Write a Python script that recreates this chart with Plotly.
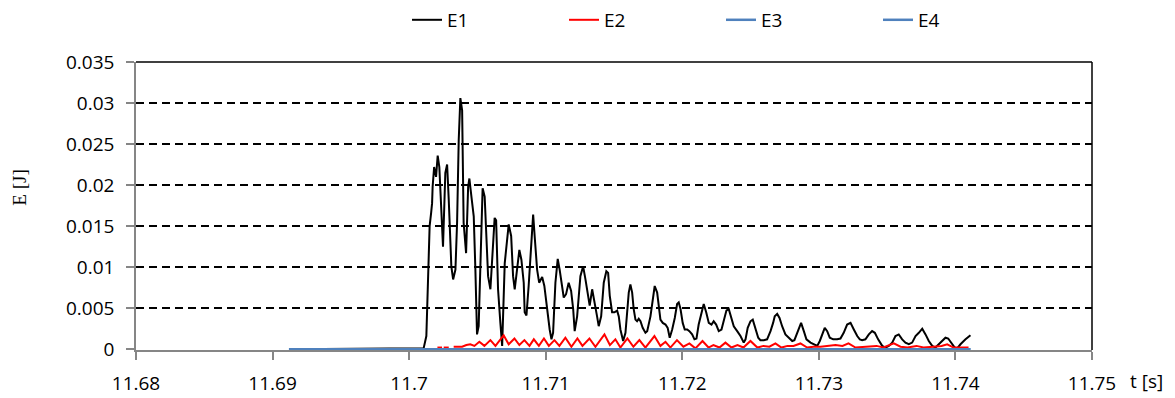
import plotly.graph_objects as go

# ---------------- data ----------------
t_e1 = [11.69123, 11.70106, 11.70126, 11.70143, 11.70150, 11.70161, 11.70168, 11.70172, 11.70183, 11.70197,
        11.70209, 11.70221, 11.70234, 11.70248, 11.70265, 11.70278, 11.70290, 11.70309, 11.70322, 11.70339,
        11.70351, 11.70363, 11.70375, 11.70388, 11.70399, 11.70417, 11.70432, 11.70441, 11.70456, 11.70473,
        11.70485, 11.70497, 11.70509, 11.70524, 11.70538, 11.70553, 11.70566, 11.70578, 11.70595, 11.70612,
        11.70626, 11.70637, 11.70651, 11.70668, 11.70681, 11.70700, 11.70729, 11.70747, 11.70761, 11.70773,
        11.70790, 11.70807, 11.70822, 11.70839, 11.70846, 11.70859, 11.70875, 11.70895, 11.70908, 11.70919,
        11.70937, 11.70952, 11.70974, 11.70990, 11.71010, 11.71029, 11.71042, 11.71054, 11.71071, 11.71088,
        11.71102, 11.71120, 11.71132, 11.71149, 11.71168, 11.71186, 11.71201, 11.71212, 11.71230, 11.71254,
        11.71274, 11.71291, 11.71310, 11.71322, 11.71340, 11.71357, 11.71376, 11.71388, 11.71406, 11.71425,
        11.71444, 11.71457, 11.71469, 11.71486, 11.71503, 11.71523, 11.71535, 11.71547, 11.71567, 11.71584,
        11.71600, 11.71608, 11.71620, 11.71633, 11.71644, 11.71657, 11.71669, 11.71681, 11.71694, 11.71710,
        11.71730, 11.71743, 11.71767, 11.71784, 11.71798, 11.71816, 11.71828, 11.71840, 11.71857, 11.71877,
        11.71893, 11.71908, 11.71926, 11.71945, 11.71962, 11.71974, 11.71987, 11.72003, 11.72018, 11.72036,
        11.72052, 11.72072, 11.72089, 11.72104, 11.72120, 11.72140, 11.72157, 11.72175, 11.72194, 11.72214,
        11.72230, 11.72248, 11.72267, 11.72287, 11.72304, 11.72323, 11.72340, 11.72360, 11.72377, 11.72402,
        11.72426, 11.72450, 11.72463, 11.72479, 11.72499, 11.72516, 11.72536, 11.72556, 11.72572, 11.72597,
        11.72621, 11.72646, 11.72665, 11.72677, 11.72695, 11.72712, 11.72731, 11.72755, 11.72780, 11.72805,
        11.72821, 11.72841, 11.72870, 11.72890, 11.72909, 11.72939, 11.72963, 11.72988, 11.73007, 11.73024,
        11.73043, 11.73061, 11.73080, 11.73105, 11.73134, 11.73158, 11.73182, 11.73207, 11.73232, 11.73256,
        11.73281, 11.73300, 11.73317, 11.73341, 11.73366, 11.73390, 11.73410, 11.73434, 11.73464, 11.73488,
        11.73512, 11.73537, 11.73561, 11.73585, 11.73610, 11.73634, 11.73659, 11.73683, 11.73708, 11.73732,
        11.73757, 11.73781, 11.73805, 11.73830, 11.73854, 11.73878, 11.73903, 11.73927, 11.73947, 11.73971,
        11.73995, 11.74013, 11.74037, 11.74074, 11.74110]
e1 = [0.0, 0.0001, 0.0016, 0.0105, 0.0150, 0.0166, 0.0178, 0.0198, 0.0222, 0.0210,
      0.0236, 0.0222, 0.0174, 0.0125, 0.0215, 0.0225, 0.0182, 0.0101, 0.0085, 0.0097,
      0.0154, 0.0255, 0.0306, 0.0291, 0.0154, 0.0117, 0.0198, 0.0208, 0.0186, 0.0162,
      0.0097, 0.0018, 0.0028, 0.0113, 0.0196, 0.0186, 0.0134, 0.0089, 0.0073, 0.0121,
      0.0160, 0.0157, 0.0073, 0.0032, 0.0004, 0.0105, 0.0152, 0.0138, 0.0089, 0.0073,
      0.0095, 0.0121, 0.0109, 0.0081, 0.0045, 0.0041, 0.0077, 0.0130, 0.0164, 0.0138,
      0.0097, 0.0081, 0.0088, 0.0077, 0.0049, 0.0024, 0.0012, 0.0020, 0.0081, 0.0110,
      0.0097, 0.0073, 0.0063, 0.0067, 0.0081, 0.0071, 0.0049, 0.0022, 0.0040, 0.0089,
      0.0101, 0.0085, 0.0065, 0.0053, 0.0073, 0.0059, 0.0040, 0.0028, 0.0040, 0.0081,
      0.0095, 0.0093, 0.0065, 0.0045, 0.0045, 0.0047, 0.0040, 0.0024, 0.0010, 0.0020,
      0.0057, 0.0069, 0.0079, 0.0069, 0.0049, 0.0036, 0.0034, 0.0037, 0.0034, 0.0026,
      0.0020, 0.0022, 0.0040, 0.0061, 0.0077, 0.0069, 0.0049, 0.0036, 0.0032, 0.0030,
      0.0026, 0.0014, 0.0024, 0.0038, 0.0055, 0.0057, 0.0049, 0.0032, 0.0024, 0.0024,
      0.0022, 0.0018, 0.0012, 0.0013, 0.0030, 0.0045, 0.0055, 0.0045, 0.0032, 0.0030,
      0.0034, 0.0030, 0.0022, 0.0024, 0.0036, 0.0047, 0.0049, 0.0038, 0.0028, 0.0022,
      0.0016, 0.0008, 0.0012, 0.0026, 0.0034, 0.0036, 0.0026, 0.0014, 0.0011, 0.0011,
      0.0012, 0.0022, 0.0032, 0.0040, 0.0043, 0.0038, 0.0028, 0.0018, 0.0014, 0.0010,
      0.0011, 0.0020, 0.0032, 0.0022, 0.0012, 0.0008, 0.0006, 0.0004, 0.0010, 0.0018,
      0.0026, 0.0022, 0.0014, 0.0012, 0.0012, 0.0013, 0.0020, 0.0030, 0.0032, 0.0024,
      0.0016, 0.0012, 0.0011, 0.0012, 0.0018, 0.0022, 0.0020, 0.0012, 0.0004, 0.0002,
      0.0004, 0.0008, 0.0016, 0.0018, 0.0012, 0.0008, 0.0006, 0.0008, 0.0016, 0.0020,
      0.0025, 0.0018, 0.0010, 0.0004, 0.0002, 0.0006, 0.0010, 0.0014, 0.0013, 0.0007,
      0.0002, 0.0001, 0.0006, 0.0012, 0.0017]

t_e2 = [11.70207, 11.70241, None, 11.70253, 11.70290, None, 11.70326, 11.70388, 11.70419, 11.70448,
        11.70478, 11.70514, 11.70551, 11.70595, 11.70632, 11.70692, 11.70729, 11.70771, 11.70807, 11.70844,
        11.70881, 11.70913, 11.70950, 11.70987, 11.71023, 11.71064, 11.71100, 11.71144, 11.71188, 11.71232,
        11.71269, 11.71320, 11.71364, 11.71430, 11.71470, 11.71510, 11.71547, 11.71598, 11.71642, 11.71686,
        11.71730, 11.71796, 11.71840, 11.71877, 11.71913, 11.71961, 11.72008, 11.72052, 11.72096, 11.72148,
        11.72192, 11.72228, 11.72272, 11.72316, 11.72360, 11.72404, 11.72448, 11.72499, 11.72550, 11.72594,
        11.72638, 11.72682, 11.72726, 11.72770, 11.72814, 11.72865, 11.72914, 11.72961, 11.73012, 11.73061,
        11.73122, 11.73173, 11.73217, 11.73268, 11.73327, 11.73378, 11.73422, 11.73473, 11.73549, 11.73598,
        11.73649, 11.73715, 11.73766, 11.73839, 11.73898, 11.73940, 11.73986, 11.74037, 11.74096]
e2 = [0.0002, 0.0002, None, 0.0002, 0.0002, None, 0.0003, 0.0003, 0.0005, 0.0006,
      0.0004, 0.0009, 0.0004, 0.0011, 0.0004, 0.0017, 0.0006, 0.0013, 0.0005, 0.0011,
      0.0004, 0.0012, 0.0004, 0.0013, 0.0004, 0.0011, 0.0004, 0.0014, 0.0003, 0.0013,
      0.0004, 0.0013, 0.0003, 0.0018, 0.0005, 0.0012, 0.0002, 0.0013, 0.0003, 0.0011,
      0.0002, 0.0016, 0.0004, 0.0009, 0.0002, 0.0011, 0.0003, 0.0007, 0.0001, 0.0010,
      0.0002, 0.0005, 0.0002, 0.0008, 0.0002, 0.0005, 0.0002, 0.0010, 0.0002, 0.0004,
      0.0003, 0.0007, 0.0002, 0.0004, 0.0004, 0.0007, 0.0002, 0.0003, 0.0003, 0.0004,
      0.0005, 0.0004, 0.0007, 0.0002, 0.0003, 0.0004, 0.0004, 0.0002, 0.0007, 0.0003,
      0.0002, 0.0004, 0.0002, 0.0003, 0.0004, 0.0006, 0.0002, 0.0002, 0.0002]

t_e3 = [11.69120, 11.70000, 11.71000, 11.72000, 11.73000, 11.74110]
e3 = [0.0, 0.0, 0.0, 0.0, 0.0, 0.0]
t_e4 = [11.69120, 11.70000, 11.71000, 11.72000, 11.73000, 11.74110]
e4 = [0.0, 0.0, 0.0, 0.0, 0.0, 0.0]

x_ticks = [11.68, 11.69, 11.70, 11.71, 11.72, 11.73, 11.74, 11.75]
x_tick_labels = ["11.68", "11.69", "11.7", "11.71", "11.72", "11.73", "11.74", "11.75"]
y_ticks = [0, 0.005, 0.01, 0.015, 0.02, 0.025, 0.03, 0.035]
y_tick_labels = ["0", "0.005", "0.01", "0.015", "0.02", "0.025", "0.03", "0.035"]

# ---------------- figure ----------------
# the page body has an 8px default margin, so the figure is 8px smaller and the
# margins are 8px smaller on the left/top to land the plot area where the reference has it
FONT = "Open Sans"
FS = 19
fig = go.Figure()
fig.add_trace(go.Scatter(x=t_e1, y=e1, name="E1", mode="lines",
                         line=dict(color="#000000", width=2), connectgaps=False))
fig.add_trace(go.Scatter(x=t_e2, y=e2, name="E2", mode="lines",
                         line=dict(color="#FF0000", width=2), connectgaps=False))
fig.add_trace(go.Scatter(x=t_e3, y=e3, name="E3", mode="lines",
                         line=dict(color="#4F81BD", width=2.5)))
fig.add_trace(go.Scatter(x=t_e4, y=e4, name="E4", mode="lines",
                         line=dict(color="#4F81BD", width=2.5)))

fig.update_layout(
    width=1167, height=390,
    margin=dict(l=128, r=83, t=54, b=48, autoexpand=False),
    paper_bgcolor="white", plot_bgcolor="white",
    font=dict(family=FONT, size=FS, color="#000000"),
    showlegend=True,
    legend=dict(orientation="h", x=0.2835, xanchor="left", y=1.146, yanchor="middle",
                entrywidth=112, entrywidthmode="pixels",
                font=dict(family=FONT, size=FS), bgcolor="rgba(0,0,0,0)"),
    xaxis=dict(range=[11.68, 11.75], tickvals=x_ticks, ticktext=x_tick_labels,
               showgrid=False, zeroline=False, automargin=False, layer="below traces",
               showline=True, linecolor="#868686", linewidth=1.5,
               ticks="outside", ticklen=8, tickcolor="#868686", tickwidth=1.5,
               ticklabelstandoff=7, tickfont=dict(family=FONT, size=FS)),
    yaxis=dict(range=[-0.0001, 0.035], tickvals=y_ticks, ticktext=y_tick_labels,
               showgrid=True, gridcolor="#000000", gridwidth=1.5, griddash="8px,5px",
               zeroline=False, automargin=False, layer="below traces",
               showline=True, linecolor="#868686", linewidth=1.5,
               ticks="outside", ticklen=8, tickcolor="#868686", tickwidth=1.5,
               ticklabelstandoff=8, tickfont=dict(family=FONT, size=FS)),
    shapes=[
        dict(type="line", xref="paper", yref="paper", x0=0, x1=1, y0=1, y1=1,
             line=dict(color="#000000", width=1.5), layer="above"),
        dict(type="line", xref="paper", yref="paper", x0=1, x1=1, y0=0, y1=1,
             line=dict(color="#000000", width=1.5), layer="above"),
    ],
    annotations=[
        dict(text="E [J]", xref="paper", yref="paper", x=0, y=0.5637, xanchor="center",
             yanchor="middle", xshift=-116, textangle=-90, showarrow=False,
             font=dict(family="Liberation Serif", size=19, color="#000000")),
        dict(text="t [s]", xref="paper", yref="paper", x=1, y=0, xanchor="left",
             yanchor="middle", xshift=36, yshift=-31, showarrow=False,
             font=dict(family=FONT, size=FS, color="#000000")),
    ],
)

fig.write_html("out.html")
